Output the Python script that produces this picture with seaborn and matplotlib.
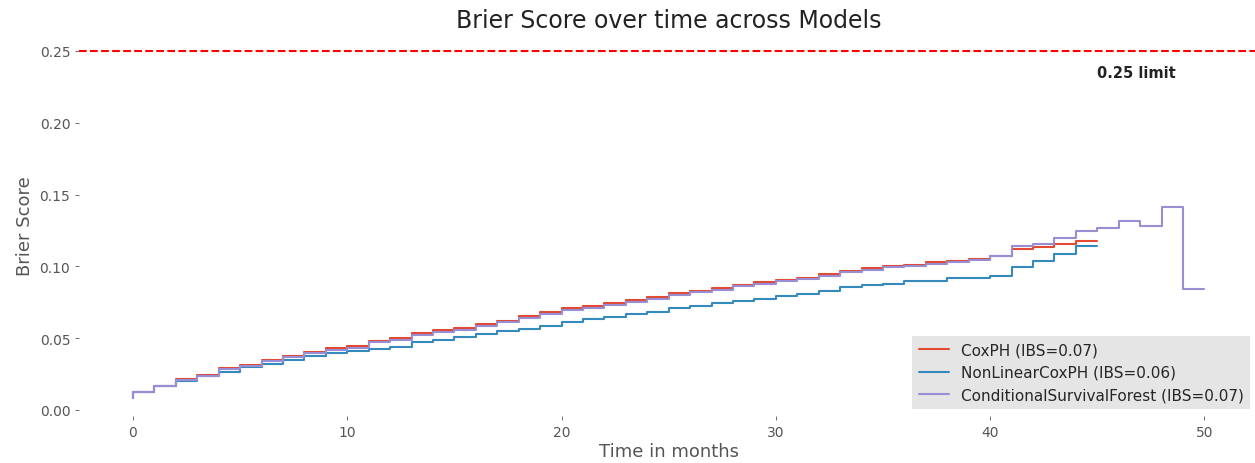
import numpy as np
import pandas as pd
import matplotlib
matplotlib.use("Agg")
import matplotlib.pyplot as plt
import seaborn as sns

# ---- data ----
times_cox = list(range(0, 46))
times_csf = list(range(0, 51))

coxph = [0.008,
         0.0127, 0.0169, 0.0216, 0.0244, 0.0290, 0.0316, 0.0348, 0.0378, 0.0406, 0.0430,
         0.0443, 0.0483, 0.0499, 0.0536, 0.0557, 0.0571, 0.0599, 0.0622, 0.0657, 0.0680,
         0.0708, 0.0722, 0.0743, 0.0766, 0.0785, 0.0815, 0.0831, 0.0847, 0.0873, 0.0889,
         0.0908, 0.0921, 0.0947, 0.0970, 0.0989, 0.1005, 0.1010, 0.1028, 0.1038, 0.1052,
         0.1070, 0.1121, 0.1133, 0.1156, 0.1179]

nonlinear = [0.008,
             0.0125, 0.0165, 0.0205, 0.0235, 0.0267, 0.0297, 0.0320, 0.0350, 0.0374, 0.0395,
             0.0410, 0.0425, 0.0437, 0.0471, 0.0487, 0.0506, 0.0527, 0.0548, 0.0564, 0.0583,
             0.0610, 0.0634, 0.0646, 0.0669, 0.0680, 0.0708, 0.0726, 0.0745, 0.0761, 0.0773,
             0.0792, 0.0808, 0.0831, 0.0854, 0.0870, 0.0877, 0.0900, 0.0900, 0.0921, 0.0921,
             0.0935, 0.0993, 0.1040, 0.1086, 0.1140]

csf = [0.008,
       0.0127, 0.0167, 0.0210, 0.0240, 0.0282, 0.0307, 0.0338, 0.0368, 0.0396, 0.0420,
       0.0435, 0.0470, 0.0488, 0.0524, 0.0545, 0.0560, 0.0587, 0.0610, 0.0644, 0.0668,
       0.0695, 0.0710, 0.0731, 0.0754, 0.0773, 0.0802, 0.0819, 0.0835, 0.0860, 0.0877,
       0.0895, 0.0910, 0.0935, 0.0958, 0.0977, 0.0995, 0.1002, 0.1020, 0.1030, 0.1045,
       0.1070, 0.1144, 0.1156, 0.1196, 0.1249, 0.1265, 0.1314, 0.1284, 0.1411, 0.0843]

labels = ["CoxPH (IBS=0.07)", "NonLinearCoxPH (IBS=0.06)", "ConditionalSurvivalForest (IBS=0.07)"]
colors = ["#E24A33", "#348ABD", "#988ED5"]
limit_value = 0.25
limit_text = "0.25 limit"
title = "Brier Score over time across Models"
xlabel = "Time in months"
ylabel = "Brier Score"

df = pd.concat([
    pd.DataFrame({"t": times_cox, "bs": coxph, "model": labels[0]}),
    pd.DataFrame({"t": times_cox, "bs": nonlinear, "model": labels[1]}),
    pd.DataFrame({"t": times_csf, "bs": csf, "model": labels[2]}),
], ignore_index=True)

sns.set_theme(style="white")
plt.rcParams.update({
    "font.family": ["DejaVu Sans"],
    "xtick.bottom": True, "ytick.left": True,
    "xtick.color": "#555555", "ytick.color": "#555555",
    "xtick.labelcolor": "#555555", "ytick.labelcolor": "#555555",
    "xtick.major.size": 3, "ytick.major.size": 3,
    "xtick.major.width": 0.6, "ytick.major.width": 0.6,
})

fig = plt.figure(figsize=(12.55, 4.64), dpi=100)
ax = fig.add_axes([79.4 / 1255, 46.7 / 464, 1178.6 / 1255, 382.7 / 464])

sns.lineplot(data=df, x="t", y="bs", hue="model", hue_order=labels,
             palette=dict(zip(labels, colors)), estimator=None,
             drawstyle="steps-pre", linewidth=1.5, ax=ax)

ax.axhline(limit_value, color="red", linestyle="--", linewidth=1.5)
ax.text(45, 0.2347, limit_text, fontsize=10.5, fontweight="bold",
        color="#222222", va="center", ha="left")

ax.set_xlim(-2.5, 52.5)
ax.set_ylim(-0.0044, 0.2621)
ax.set_xticks([0, 10, 20, 30, 40, 50])
ax.set_yticks([0.0, 0.05, 0.10, 0.15, 0.20, 0.25])
ax.set_yticklabels([f"{v:.2f}" for v in [0.0, 0.05, 0.10, 0.15, 0.20, 0.25]])
ax.tick_params(labelsize=10)
for s in ax.spines.values():
    s.set_visible(False)

ax.set_title(title, fontsize=17, color="#222222", pad=5)
ax.set_xlabel(xlabel, fontsize=13, color="#555555", labelpad=2)
ax.set_ylabel(ylabel, fontsize=13, color="#555555")

h, l = ax.get_legend_handles_labels()
leg = ax.legend(h, l, loc="lower right", fontsize=11, frameon=True,
                facecolor="#E5E5E5", edgecolor="none", framealpha=1,
                fancybox=False, borderaxespad=0.5)

fig.savefig("out.png", dpi=100)
